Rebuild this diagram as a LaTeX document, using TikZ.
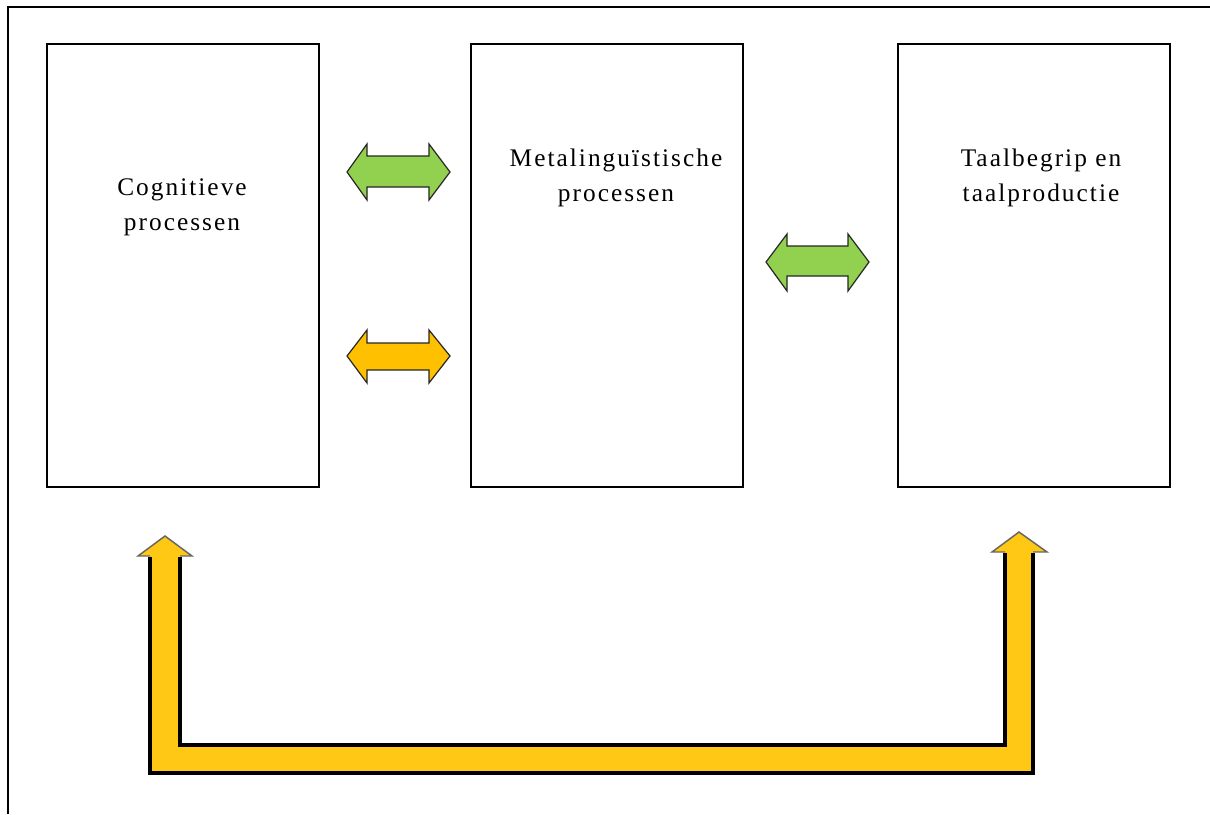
\documentclass[tikz,border=0pt]{standalone}
\usepackage{fontspec}
\setmainfont{Liberation Serif}[LetterSpace=8]
\definecolor{arrgreen}{RGB}{146,208,80}
\definecolor{arrorange}{RGB}{255,192,0}
\definecolor{arrgold}{RGB}{255,200,20}
\tikzset{
  procbox/.style={draw=black, line width=1.1pt, fill=white},
  proclabel/.style={align=center, font=\fontsize{19}{26.25}\selectfont, inner sep=0pt, anchor=base},
  blockarrow/.style={draw=black!85, line width=0.9pt, line join=miter},
  shaftline/.style={draw=black, line width=2.4pt, line join=miter},
  headline/.style={draw=black!60, line width=1.1pt, line join=miter},
}
\begin{document}
\begin{tikzpicture}[x=0.75pt,y=-0.75pt]
\useasboundingbox (0,0) rectangle (1210,814);
% outer frame (left and top)
\coordinate (fbl) at (8,814);
\coordinate (ftl) at (8,7);
\coordinate (ftr) at (1210,7);
\draw[line width=1.3pt] (fbl) -- (ftl) -- (ftr);

% boxes
\node[procbox, minimum width=272*0.75pt, minimum height=443*0.75pt, inner sep=0pt] (cog) at (183,265.5) {};
\node[procbox, minimum width=272*0.75pt, minimum height=443*0.75pt, inner sep=0pt] (meta) at (607,265.5) {};
\node[procbox, minimum width=272*0.75pt, minimum height=443*0.75pt, inner sep=0pt] (taal) at (1034,265.5) {};

% labels (base anchor = last line's baseline)
\node[proclabel] (cogtext) at (182,230) {Cognitieve\\processen};
\node[proclabel] (metatext) at (616,201) {Metalinguïstische\\processen};
\node[proclabel] (taaltext) at (1041,201) {Taalbegrip en\\taalproductie};

% green double arrow between cog and meta
\draw[blockarrow, fill=arrgreen] (347,172) -- (367,144) -- (367,156) -- (429,156) -- (429,144) -- (450,172)
  -- (429,200) -- (429,187) -- (367,187) -- (367,200) -- cycle;
% orange double arrow between cog and meta
\draw[blockarrow, fill=arrorange] (347,356) -- (367,330) -- (367,343) -- (429,343) -- (429,330) -- (450,356)
  -- (429,383) -- (429,370) -- (367,370) -- (367,383) -- cycle;
% green double arrow between meta and taal
\draw[blockarrow, fill=arrgreen] (766,262) -- (787,234) -- (787,246) -- (848,246) -- (848,234) -- (869,262)
  -- (848,291) -- (848,276) -- (787,276) -- (787,291) -- cycle;

% big U-shaped arrow
\coordinate (ltip) at (165,536);
\coordinate (rtip) at (1019,532);
\fill[arrgold] (ltip) -- (192,556) -- (180,556) -- (180,745) -- (1005,745) -- (1005,552) -- (992,552)
  -- (rtip) -- (1047,552) -- (1033,552) -- (1033,773) -- (150,773) -- (150,556) -- (138,556) -- cycle;
\draw[shaftline] (180,557) -- (180,745) -- (1005,745) -- (1005,553);
\draw[shaftline] (1033,553) -- (1033,773) -- (150,773) -- (150,557);
\draw[headline] (150,556) -- (138,556) -- (ltip) -- (192,556) -- (180,556);
\draw[headline] (1005,552) -- (992,552) -- (rtip) -- (1047,552) -- (1033,552);
\end{tikzpicture}
\end{document}
